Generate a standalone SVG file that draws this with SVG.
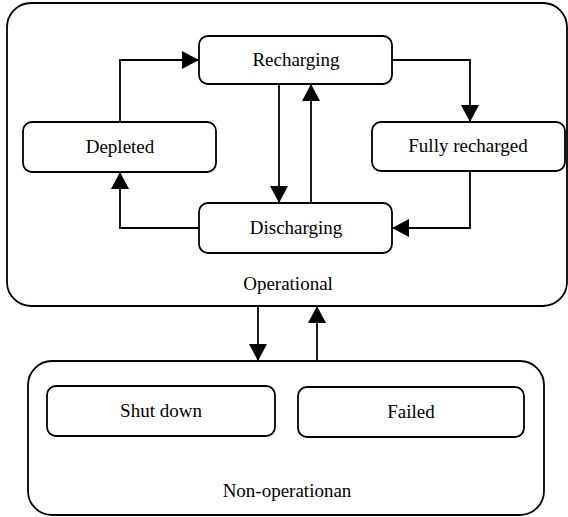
<svg xmlns="http://www.w3.org/2000/svg" width="568" height="517" viewBox="0 0 568 517">
<style>
.box{fill:#fff;stroke:#000;stroke-width:1.8}
.st{fill:#fff;stroke:#000;stroke-width:1.8}
text{font-family:"Liberation Serif","Times New Roman",serif;font-size:19px;fill:#000;text-anchor:middle}
.con{fill:none;stroke:#000;stroke-width:1.8}
</style>
<defs>
<marker id="ah" markerUnits="userSpaceOnUse" markerWidth="18" markerHeight="19" refX="17" refY="9" orient="auto">
<path d="M0,0 L17,9 L0,18 z" fill="#000"/>
</marker>
</defs>
<rect width="568" height="517" fill="#fff"/>
<g id="operational">
<rect class="box" x="7" y="3" width="560" height="303" rx="24"/>
<text x="288" y="290">Operational</text>
</g>
<g id="nonoperational">
<rect class="box" x="28" y="361" width="516" height="154" rx="24"/>
<text x="287" y="497">Non-operationan</text>
</g>
<g id="recharging">
<rect class="st" x="199" y="36" width="193" height="48" rx="9"/>
<text x="296" y="66">Recharging</text>
</g>
<g id="depleted">
<rect class="st" x="23" y="122" width="193" height="50" rx="9"/>
<text x="120" y="153">Depleted</text>
</g>
<g id="discharging">
<rect class="st" x="199" y="203" width="193" height="50" rx="9"/>
<text x="296" y="234">Discharging</text>
</g>
<g id="fullyrecharged">
<rect class="st" x="372" y="122" width="193" height="49" rx="9"/>
<text x="468" y="152">Fully recharged</text>
</g>
<g id="shutdown">
<rect class="st" x="47" y="386" width="228" height="50" rx="9"/>
<text x="161" y="417">Shut down</text>
</g>
<g id="failed">
<rect class="st" x="298" y="387" width="226" height="50" rx="9"/>
<text x="411" y="418">Failed</text>
</g>
<g id="connectors">
<path class="con" d="M120,122 V60 H199" marker-end="url(#ah)"/>
<path class="con" d="M279,84 V203" marker-end="url(#ah)"/>
<path class="con" d="M311,203 V84" marker-end="url(#ah)"/>
<path class="con" d="M392,60 H470 V122" marker-end="url(#ah)"/>
<path class="con" d="M470,171 V228 H392" marker-end="url(#ah)"/>
<path class="con" d="M199,228 H120 V172" marker-end="url(#ah)"/>
<path class="con" d="M258,306 V361" marker-end="url(#ah)"/>
<path class="con" d="M317,361 V306" marker-end="url(#ah)"/>
</g>
</svg>
